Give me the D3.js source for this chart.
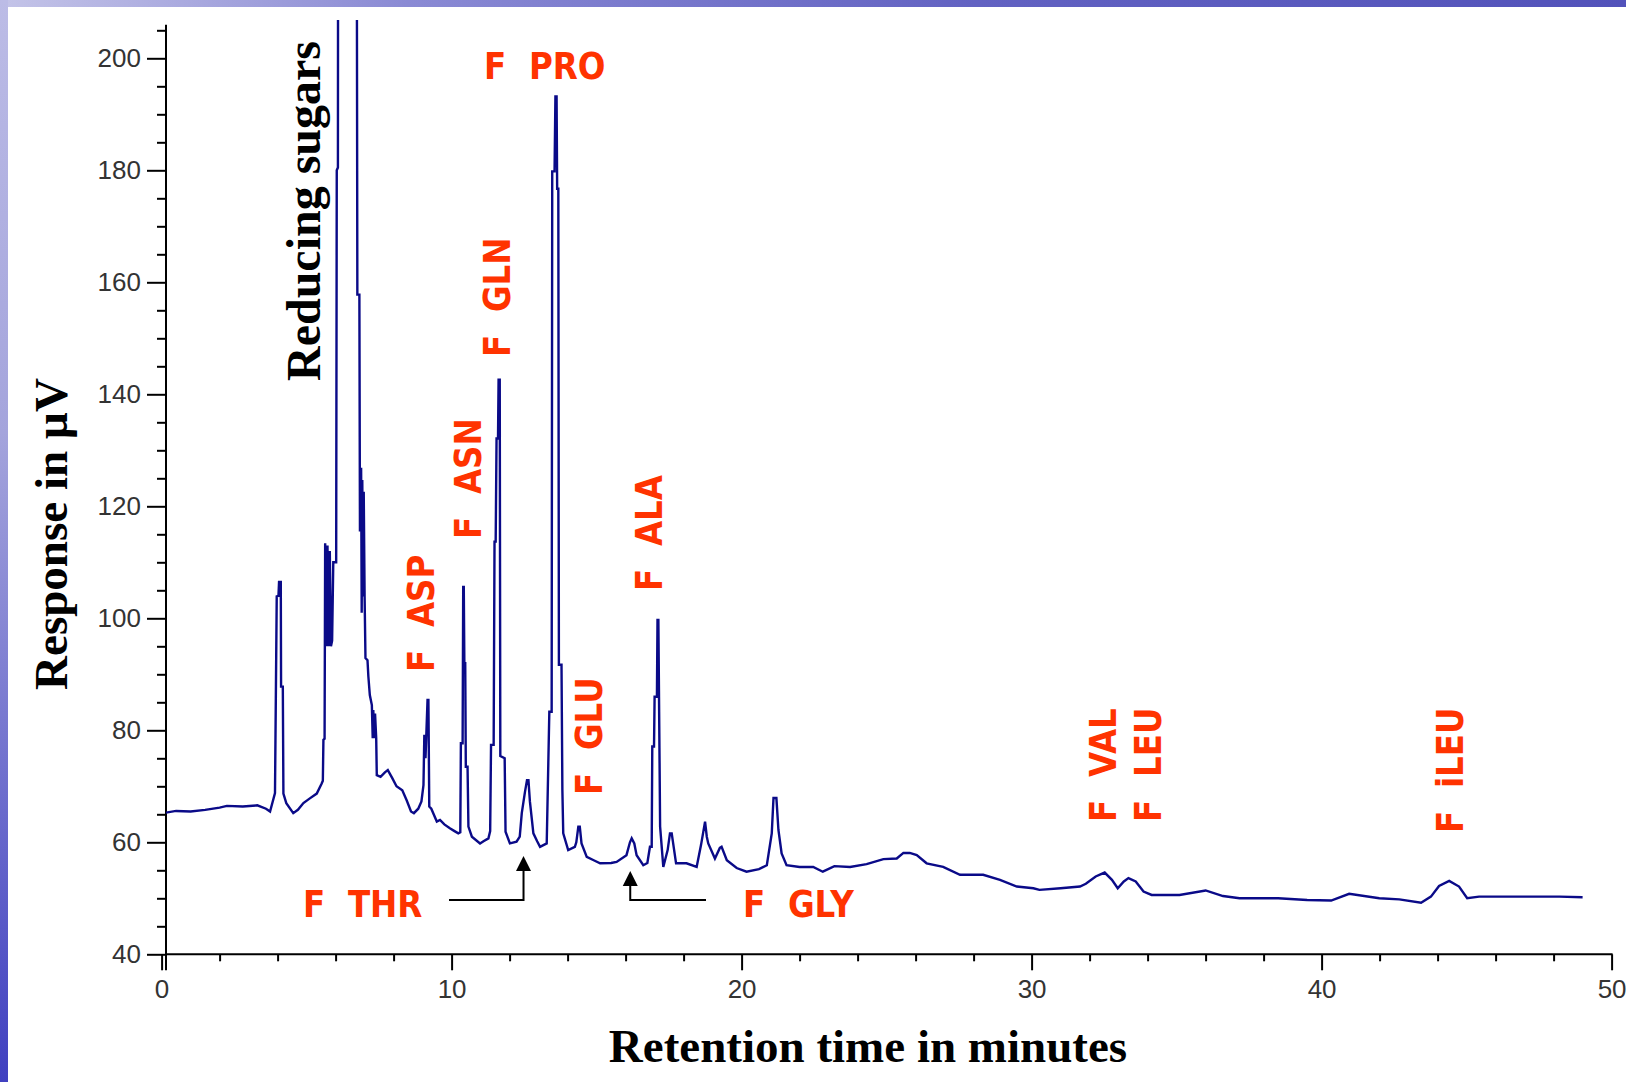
<!DOCTYPE html>
<html>
<head>
<meta charset="utf-8">
<script src="https://cdn.jsdelivr.net/npm/d3@7/dist/d3.min.js"></script>
<style>
  html, body { margin: 0; padding: 0; background: #ffffff; }
  svg { display: block; }
</style>
</head>
<body>
<svg id="chart" width="1626" height="1082"></svg>
<script>
// ---------------- DATA ----------------
// Retention time (minutes)
const times = [
  0.15, 0.5, 1.0, 1.5, 2.0, 2.25, 2.8, 3.3, 3.6, 3.74, 3.91, 3.97, 4.03, 4.05, 4.11, 4.12, 4.18, 4.2, 4.3, 4.54,
  4.7, 4.89, 5.1, 5.35, 5.52, 5.56, 5.58, 5.62, 5.64, 5.7, 5.72, 5.76, 5.8, 5.84, 5.88, 5.92, 5.98, 6.02, 6.04, 6.08,
  6.09, 6.72, 6.75, 6.82, 6.84, 6.88, 6.9, 6.92, 6.95, 6.97, 7.0, 7.03, 7.1, 7.13, 7.18, 7.25, 7.28, 7.3, 7.33, 7.36,
  7.4, 7.42, 7.55, 7.7, 7.8, 7.95, 8.1, 8.3, 8.45, 8.6, 8.7, 8.85, 8.96, 9.03, 9.06, 9.1, 9.13, 9.17, 9.2, 9.23,
  9.3, 9.49, 9.6, 9.75, 9.94, 10.1, 10.23, 10.3, 10.32, 10.38, 10.4, 10.42, 10.44, 10.47, 10.49, 10.55, 10.58, 10.7, 10.98, 11.1,
  11.27, 11.33, 11.36, 11.45, 11.48, 11.52, 11.55, 11.6, 11.62, 11.66, 11.68, 11.83, 11.86, 12.01, 12.24, 12.35, 12.42, 12.53, 12.6, 12.65,
  12.7, 12.82, 12.95, 13.05, 13.28, 13.37, 13.45, 13.47, 13.55, 13.58, 13.62, 13.64, 13.68, 13.7, 13.79, 13.82, 13.85, 14.02, 14.25, 14.3,
  14.37, 14.42, 14.48, 14.66, 14.9, 15.12, 15.5, 15.69, 16.03, 16.15, 16.21, 16.3, 16.38, 16.61, 16.75, 16.84, 16.9, 16.92, 16.98, 17.0,
  17.08, 17.1, 17.13, 17.19, 17.3, 17.45, 17.53, 17.59, 17.74, 18.1, 18.45, 18.6, 18.74, 18.8, 18.85, 19.08, 19.25, 19.31, 19.49, 19.83,
  20.17, 20.6, 20.87, 21.04, 21.1, 21.2, 21.27, 21.38, 21.55, 22.0, 22.47, 22.8, 23.2, 23.74, 24.31, 24.89, 25.35, 25.58, 25.8, 26.04,
  26.38, 26.95, 27.53, 28.33, 28.91, 29.49, 30.06, 30.27, 31.0, 31.67, 31.87, 32.21, 32.52, 32.77, 32.97, 33.18, 33.34, 33.59, 33.86, 34.14,
  35.1, 36.0, 36.6, 37.17, 38.5, 39.5, 40.33, 40.95, 41.99, 42.68, 43.43, 43.77, 44.05, 44.4, 44.74, 45.02, 45.43, 46.8, 48.2, 49.0
];
// Detector response (µV)
const response = [
  65.3, 65.6, 65.5, 65.8, 66.2, 66.5, 66.4, 66.6, 66.0, 65.5, 68.8, 103.9, 104.0, 106.5, 106.5, 87.8, 87.8, 68.7, 67.0, 65.2,
  65.8, 67.0, 67.8, 68.7, 70.5, 71.0, 78.3, 78.5, 113.4, 95.0, 113.0, 95.0, 112.0, 95.0, 96.0, 110.0, 110.0, 110.0, 180.0, 180.5,
  260, 260, 157.8, 157.8, 115.5, 126.9, 101.0, 124.7, 103.9, 122.6, 104.0, 92.9, 92.5, 89.6, 86.3, 84.5, 78.6, 83.6, 78.6, 83.0,
  78.6, 72.0, 71.7, 72.5, 72.9, 71.5, 70.0, 69.3, 67.5, 65.5, 65.2, 66.0, 67.3, 70.2, 79.2, 75.0, 79.5, 85.4, 85.4, 66.4,
  66.0, 63.7, 64.0, 63.2, 62.5, 62.0, 61.6, 61.8, 77.7, 77.7, 105.6, 105.6, 92.0, 92.0, 73.5, 73.5, 62.8, 61.0, 59.8, 60.2,
  60.7, 62.0, 77.4, 77.4, 113.7, 113.7, 132.1, 132.1, 142.6, 142.6, 75.4, 75.0, 61.9, 59.8, 60.1, 61.0, 65.2, 69.0, 71.1, 71.1,
  67.3, 61.6, 60.2, 59.2, 59.8, 83.3, 83.3, 179.8, 179.8, 193.2, 193.2, 176.7, 176.7, 91.7, 91.7, 69.3, 61.6, 58.6, 59.2, 60.0,
  62.8, 62.8, 59.8, 57.4, 56.8, 56.25, 56.3, 56.5, 57.7, 60.0, 60.7, 59.8, 57.7, 55.9, 56.3, 59.2, 59.2, 77.1, 77.1, 86.0,
  86.0, 99.7, 99.7, 62.8, 55.6, 58.6, 61.6, 61.6, 56.25, 56.25, 55.6, 59.5, 63.7, 61.0, 59.8, 57.1, 59.0, 59.2, 56.8, 55.4,
  54.75, 55.2, 55.9, 61.6, 67.9, 67.9, 62.2, 58.0, 55.9, 55.6, 55.6, 54.75, 55.75, 55.6, 56.1, 57.0, 57.1, 58.1, 58.1, 57.7,
  56.25, 55.6, 54.2, 54.2, 53.3, 52.1, 51.8, 51.5, 51.8, 52.1, 52.6, 53.9, 54.6, 53.3, 51.8, 53.0, 53.6, 53.0, 51.2, 50.6,
  50.6, 51.4, 50.4, 50.0, 50.0, 49.7, 49.6, 50.8, 50.0, 49.8, 49.2, 50.3, 52.2, 53.1, 52.1, 50.0, 50.3, 50.3, 50.3, 50.2
];
const xTickValues = [0, 10, 20, 30, 40, 50];
const yTickValues = [40, 60, 80, 100, 120, 140, 160, 180, 200];
const xMinorTicks = [2, 4, 6, 8, 12, 14, 16, 18, 22, 24, 26, 28, 32, 34, 36, 38, 42, 44, 46, 48];
const yMinorTicks = [45, 50, 55, 65, 70, 75, 85, 90, 95, 105, 110, 115, 125, 130, 135, 145, 150, 155, 165, 170, 175, 185, 190, 195, 205];
const xTitle = "Retention time in minutes";
const yTitle = "Response in \u00B5V";
const sugarLabel = "Reducing sugars";
// Peak annotation texts
const verticalPeakLabels = ["F  ASP", "F  ASN", "F  GLN", "F  GLU", "F  ALA", "F  VAL", "F  LEU", "F  iLEU"];
const horizontalPeakLabels = ["F  PRO", "F  THR", "F  GLY"];
// Retention times that the arrows point at
const thrTime = 12.48;
const glyTime = 16.16;

// ---------------- LAYOUT ----------------
const W = 1626, H = 1082;
const svg = d3.select("#chart");
const x = d3.scaleLinear().domain([0, 50]).range([161.6, 1611.6]);
const y = d3.scaleLinear().domain([40, 200]).range([954.3, 58.3]);
const axisX = 166;          // where the y axis line sits
const yTop = y(206);

// Background: slide-style gradient edges
const defs = svg.append("defs");
const gTop = defs.append("linearGradient").attr("id", "gTop").attr("x1", 0).attr("x2", 1).attr("y1", 0).attr("y2", 0);
gTop.append("stop").attr("offset", 0).attr("stop-color", "#c4c4e8");
gTop.append("stop").attr("offset", 0.25).attr("stop-color", "#8a8ad4");
gTop.append("stop").attr("offset", 0.6).attr("stop-color", "#6262c2");
gTop.append("stop").attr("offset", 1).attr("stop-color", "#5252ba");
const gLeft = defs.append("linearGradient").attr("id", "gLeft").attr("x1", 0).attr("x2", 0).attr("y1", 0).attr("y2", 1);
gLeft.append("stop").attr("offset", 0).attr("stop-color", "#bcbce6");
gLeft.append("stop").attr("offset", 0.4).attr("stop-color", "#a4a4dc");
gLeft.append("stop").attr("offset", 0.75).attr("stop-color", "#6a6acc");
gLeft.append("stop").attr("offset", 1).attr("stop-color", "#4040c0");

svg.append("rect").attr("x", 0).attr("y", 0).attr("width", W).attr("height", H).attr("fill", "#ffffff");
svg.append("rect").attr("x", 0).attr("y", 0).attr("width", W).attr("height", 7).attr("fill", "url(#gTop)");
svg.append("rect").attr("x", 0).attr("y", 0).attr("width", 8).attr("height", H).attr("fill", "url(#gLeft)");

defs.append("clipPath").attr("id", "plotClip")
  .append("rect").attr("x", axisX).attr("y", 20).attr("width", 1612 - axisX).attr("height", 960);

// ---------------- AXES ----------------
const tickFont = "'Liberation Sans', Arial, sans-serif";

const yAxisG = svg.append("g").attr("transform", `translate(${axisX},0)`);
yAxisG.call(d3.axisLeft(y).tickValues(yTickValues).tickSize(19).tickPadding(6).tickFormat(d3.format("d")));
yAxisG.append("g").call(d3.axisLeft(y).tickValues(yMinorTicks).tickSize(9).tickFormat(""));
yAxisG.selectAll(".domain").remove();
yAxisG.selectAll("line").attr("stroke", "#000").attr("stroke-width", 2);
yAxisG.selectAll("text").attr("font-family", tickFont).attr("font-size", 26).attr("fill", "#333");
svg.append("line").attr("x1", axisX).attr("x2", axisX).attr("y1", yTop).attr("y2", y(40) + 16)
  .attr("stroke", "#000").attr("stroke-width", 2);

const xAxisG = svg.append("g").attr("transform", `translate(0,${y(40)})`);
xAxisG.call(d3.axisBottom(x).tickValues(xTickValues).tickSize(16).tickPadding(9).tickFormat(d3.format("d")));
xAxisG.append("g").call(d3.axisBottom(x).tickValues(xMinorTicks).tickSize(7).tickFormat(""));
xAxisG.selectAll(".domain").remove();
xAxisG.selectAll("line").attr("stroke", "#000").attr("stroke-width", 2);
xAxisG.selectAll("text").attr("font-family", tickFont).attr("font-size", 26).attr("fill", "#333");
svg.append("line").attr("x1", axisX).attr("x2", x(50) + 1).attr("y1", y(40)).attr("y2", y(40))
  .attr("stroke", "#000").attr("stroke-width", 2);

// ---------------- TRACE ----------------
const pts = times.map((t, i) => [t, response[i]]);
const line = d3.line().x(d => x(d[0])).y(d => y(d[1]));
svg.append("path")
  .datum(pts)
  .attr("clip-path", "url(#plotClip)")
  .attr("d", line)
  .attr("fill", "none")
  .attr("stroke", "#0a0a88")
  .attr("stroke-width", 2.4)
  .attr("stroke-linejoin", "miter");

// ---------------- TITLES ----------------
const serif = "'Liberation Serif', 'Times New Roman', serif";
svg.append("text").text(xTitle)
  .attr("x", 868).attr("y", 1062)
  .attr("text-anchor", "middle")
  .attr("font-family", serif).attr("font-weight", "bold").attr("font-size", 47).attr("fill", "#000");
svg.append("text").text(yTitle)
  .attr("transform", "translate(67,534) rotate(-90)")
  .attr("text-anchor", "middle")
  .attr("font-family", serif).attr("font-weight", "bold").attr("font-size", 47).attr("fill", "#000");
svg.append("text").text(sugarLabel)
  .attr("transform", "translate(320,211) rotate(-90)")
  .attr("text-anchor", "middle")
  .attr("font-family", serif).attr("font-weight", "bold").attr("font-size", 48).attr("fill", "#000");

// ---------------- PEAK LABELS ----------------
const red = "#ff3300";
const labelFont = "'DejaVu Sans', Verdana, sans-serif";
const labelSize = 37;
const squeeze = 0.88;
// positions (baseline x, start y) of the rotated labels
const vPos = [[434, 672], [481, 539], [510, 357], [601.5, 795], [661.5, 591], [1115.5, 822], [1160.5, 822], [1462.5, 833]];
verticalPeakLabels.forEach((txt, i) => {
  svg.append("text").text(txt)
    .attr("transform", `translate(${vPos[i][0]},${vPos[i][1]}) rotate(-90) scale(${squeeze},1)`)
    .attr("font-family", labelFont).attr("font-weight", "bold").attr("font-size", labelSize)
    .attr("fill", red).attr("xml:space", "preserve").style("white-space", "pre");
});
const hPos = [[484, 79], [303, 917], [743, 917]];
horizontalPeakLabels.forEach((txt, i) => {
  svg.append("text").text(txt)
    .attr("transform", `translate(${hPos[i][0]},${hPos[i][1]}) scale(${squeeze},1)`)
    .attr("font-family", labelFont).attr("font-weight", "bold").attr("font-size", labelSize)
    .attr("fill", red).attr("xml:space", "preserve").style("white-space", "pre");
});

// ---------------- ARROWS ----------------
function arrow(xTip, tipY, xEnd, lineY) {
  svg.append("path")
    .attr("d", `M${xEnd},${lineY}H${xTip}V${tipY + 12}`)
    .attr("fill", "none").attr("stroke", "#000").attr("stroke-width", 2);
  svg.append("path")
    .attr("d", `M${xTip},${tipY}L${xTip - 7.5},${tipY + 15}L${xTip + 7.5},${tipY + 15}Z`)
    .attr("fill", "#000");
}
arrow(x(thrTime), 856, 449, 900);
arrow(x(glyTime), 871, 706, 900);
</script>
</body>
</html>
